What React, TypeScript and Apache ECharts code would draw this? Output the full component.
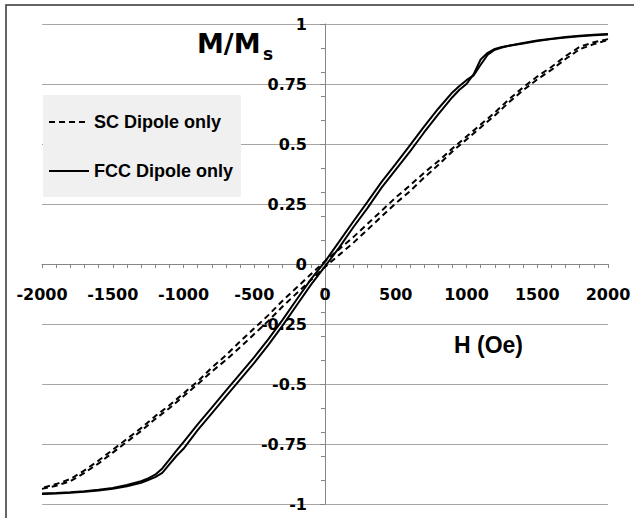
import React, { useEffect, useRef } from "react";
import * as echarts from "echarts";

// H (Oe) tick labels come from the axis: -2000 .. 2000 step 500
const xTicks = { min: -2000, max: 2000, step: 500, minorSplit: 5 };
const yTicks = { min: -1, max: 1, step: 0.25, minorStep: 0.1 };

const seriesNames = ["SC Dipole only", "FCC Dipole only"];

// FCC, descending branch (H from +2000 to -2000): [H, M/Ms]
const fccDown: [number, number][] = [
  [2000, 0.958], [1900, 0.955], [1800, 0.951], [1700, 0.946], [1600, 0.939],
  [1500, 0.931], [1400, 0.921], [1300, 0.909], [1250, 0.902], [1200, 0.893],
  [1150, 0.872], [1100, 0.83], [1050, 0.786], [1000, 0.766], [950, 0.742],
  [900, 0.715], [800, 0.647], [700, 0.572], [600, 0.494], [500, 0.417],
  [400, 0.342], [300, 0.259], [200, 0.177], [100, 0.093], [0, 0.01],
  [-100, -0.064], [-200, -0.148], [-300, -0.233], [-400, -0.313], [-500, -0.388],
  [-600, -0.458], [-700, -0.528], [-800, -0.598], [-900, -0.668], [-1000, -0.742],
  [-1050, -0.778], [-1100, -0.815], [-1150, -0.852], [-1200, -0.878], [-1250, -0.893],
  [-1300, -0.905], [-1400, -0.921], [-1500, -0.933], [-1600, -0.941], [-1700, -0.947],
  [-1800, -0.951], [-1900, -0.954], [-2000, -0.956],
];

// FCC, ascending branch (H from -2000 to +2000)
const fccUp: [number, number][] = [
  [-2000, -0.958], [-1900, -0.956], [-1800, -0.953], [-1700, -0.949], [-1600, -0.944],
  [-1500, -0.937], [-1400, -0.926], [-1300, -0.912], [-1250, -0.9], [-1200, -0.888],
  [-1150, -0.87], [-1100, -0.835], [-1050, -0.8], [-1000, -0.77], [-900, -0.692],
  [-800, -0.622], [-700, -0.552], [-600, -0.482], [-500, -0.412], [-400, -0.337],
  [-300, -0.257], [-200, -0.172], [-100, -0.087], [0, -0.01], [100, 0.068],
  [200, 0.153], [300, 0.233], [400, 0.318], [500, 0.393], [600, 0.468],
  [700, 0.548], [800, 0.623], [900, 0.695], [950, 0.726], [1000, 0.75],
  [1050, 0.79], [1100, 0.852], [1150, 0.88], [1200, 0.896], [1250, 0.904],
  [1300, 0.909], [1400, 0.919], [1500, 0.929], [1600, 0.937], [1700, 0.944],
  [1800, 0.949], [1900, 0.953], [2000, 0.956],
];

// SC, descending branch
const scDown: [number, number][] = [
  [2000, 0.937], [1900, 0.924], [1800, 0.905], [1700, 0.866], [1600, 0.821],
  [1500, 0.781], [1400, 0.736], [1300, 0.686], [1200, 0.631], [1100, 0.581],
  [1000, 0.531], [900, 0.481], [800, 0.428], [700, 0.38], [600, 0.327],
  [500, 0.277], [400, 0.222], [300, 0.167], [200, 0.112], [100, 0.062],
  [0, 0.012], [-100, -0.043], [-200, -0.098], [-300, -0.153], [-400, -0.213],
  [-500, -0.268], [-600, -0.323], [-700, -0.38], [-800, -0.432], [-900, -0.489],
  [-1000, -0.539], [-1100, -0.589], [-1200, -0.634], [-1300, -0.684], [-1400, -0.729],
  [-1500, -0.774], [-1600, -0.819], [-1700, -0.86], [-1800, -0.896], [-1900, -0.917],
  [-2000, -0.933],
];

// SC, ascending branch
const scUp: [number, number][] = [
  [-2000, -0.937], [-1900, -0.924], [-1800, -0.905], [-1700, -0.87], [-1600, -0.831],
  [-1500, -0.786], [-1400, -0.741], [-1300, -0.696], [-1200, -0.646], [-1100, -0.601],
  [-1000, -0.551], [-900, -0.501], [-800, -0.448], [-700, -0.4], [-600, -0.347],
  [-500, -0.292], [-400, -0.237], [-300, -0.177], [-200, -0.122], [-100, -0.067],
  [0, -0.012], [100, 0.038], [200, 0.088], [300, 0.143], [400, 0.198],
  [500, 0.253], [600, 0.303], [700, 0.36], [800, 0.412], [900, 0.469],
  [1000, 0.519], [1100, 0.569], [1200, 0.619], [1300, 0.674], [1400, 0.724],
  [1500, 0.769], [1600, 0.809], [1700, 0.854], [1800, 0.895], [1900, 0.916],
  [2000, 0.933],
];

const AXIS_GREY = "#868686";
const GRID_GREY = "#a6a6a6";
const LABEL_FONT = "DejaVu Sans";

const GRID = { left: 42, right: 26, top: 24, bottom: 14 };
const WIDTH = 634;
const HEIGHT = 518;

export default function App() {
  const ref = useRef<HTMLDivElement>(null);

  useEffect(() => {
    document.body.style.margin = "0";
    if (!ref.current) return;
    const chart = echarts.init(ref.current, null, { renderer: "svg" });

    const labelStyle = {
      color: "#000",
      fontFamily: LABEL_FONT,
      fontWeight: "bold" as const,
      fontSize: 16,
    };

    const solid = { color: "#000", width: 2, type: "solid" as const };
    const dashed = { color: "#000", width: 2, type: [6, 4] as number[] };

    // distance from the grid's left edge to H = 0 (the y axis crosses there)
    const plotW = WIDTH - GRID.left - GRID.right;
    const zeroOffsetX = (plotW * (0 - xTicks.min)) / (xTicks.max - xTicks.min);
    const plotH = HEIGHT - GRID.top - GRID.bottom;
    const zeroOffsetY = (plotH * (0 - yTicks.min)) / (yTicks.max - yTicks.min);

    chart.setOption({
      animation: false,
      backgroundColor: "#fff",
      grid: { ...GRID, outerBoundsMode: "none" },
      xAxis: [
        {
          type: "value",
          min: xTicks.min,
          max: xTicks.max,
          interval: xTicks.step,
          axisLine: { onZero: false, lineStyle: { color: AXIS_GREY, width: 1 } },
          position: "bottom",
          offset: -zeroOffsetY,
          axisTick: { show: true, length: 4, lineStyle: { color: AXIS_GREY } },
          minorTick: { show: true, splitNumber: xTicks.minorSplit, length: 4, lineStyle: { color: AXIS_GREY } },
          splitLine: { show: false },
          axisLabel: { ...labelStyle, margin: 22, formatter: (v: number) => String(v) },
        },
      ],
      yAxis: [
        {
          type: "value",
          position: "left",
          offset: -zeroOffsetX,
          min: yTicks.min,
          max: yTicks.max,
          interval: yTicks.step,
          axisLine: { onZero: false, lineStyle: { color: AXIS_GREY, width: 1 } },
          axisTick: { show: true, length: 5, lineStyle: { color: AXIS_GREY } },
          splitLine: { show: true, lineStyle: { color: GRID_GREY, width: 1.2 } },
          axisLabel: { ...labelStyle, margin: 18, formatter: (v: number) => String(v) },
        },
        {
          type: "value",
          position: "left",
          offset: -zeroOffsetX,
          min: yTicks.min,
          max: yTicks.max,
          interval: yTicks.minorStep,
          axisLine: { show: false, onZero: false },
          axisTick: { show: true, length: 4, lineStyle: { color: AXIS_GREY } },
          splitLine: { show: false },
          axisLabel: { show: false },
        },
      ],
      legend: {
        data: seriesNames,
        orient: "vertical",
        left: 43,
        top: 95,
        itemWidth: 40,
        itemHeight: 18,
        itemGap: 31,
        padding: [18, 8, 17, 5],
        backgroundColor: "#f0f0f0",
        itemStyle: { color: "rgba(0,0,0,0)", borderWidth: 0 },
        textStyle: {
          color: "#000",
          fontFamily: "Liberation Sans",
          fontWeight: "bold",
          fontSize: 18,
        },
      },
      graphic: [
        {
          type: "rect",
          silent: true,
          shape: { x: 6, y: 5, width: 800, height: 700 },
          style: { fill: "none", stroke: "#333", lineWidth: 1.5 },
        },
        {
          type: "text",
          x: 197,
          y: 43,
          style: {
            text: "M/M",
            font: `bold 27px "${LABEL_FONT}"`,
            fill: "#000",
            verticalAlign: "middle",
            textVerticalAlign: "middle",
          },
        },
        {
          type: "text",
          x: 263,
          y: 54,
          style: {
            text: "s",
            font: `bold 17px "${LABEL_FONT}"`,
            fill: "#000",
            verticalAlign: "middle",
            textVerticalAlign: "middle",
          },
        },
        {
          type: "text",
          x: 454,
          y: 345,
          style: {
            text: "H (Oe)",
            font: 'bold 23px "Liberation Sans"',
            fill: "#000",
            verticalAlign: "middle",
            textVerticalAlign: "middle",
          },
        },
      ],
      series: [
        { name: seriesNames[0], type: "line", data: scDown, symbol: "none", lineStyle: dashed, itemStyle: { color: "#000" } },
        { name: seriesNames[0], type: "line", data: scUp, symbol: "none", lineStyle: dashed, itemStyle: { color: "#000" } },
        { name: seriesNames[1], type: "line", data: fccDown, symbol: "none", lineStyle: solid, itemStyle: { color: "#000" } },
        { name: seriesNames[1], type: "line", data: fccUp, symbol: "none", lineStyle: solid, itemStyle: { color: "#000" } },
      ],
    });

    return () => chart.dispose();
  }, []);

  return <div ref={ref} style={{ width: WIDTH, height: HEIGHT }} />;
}
